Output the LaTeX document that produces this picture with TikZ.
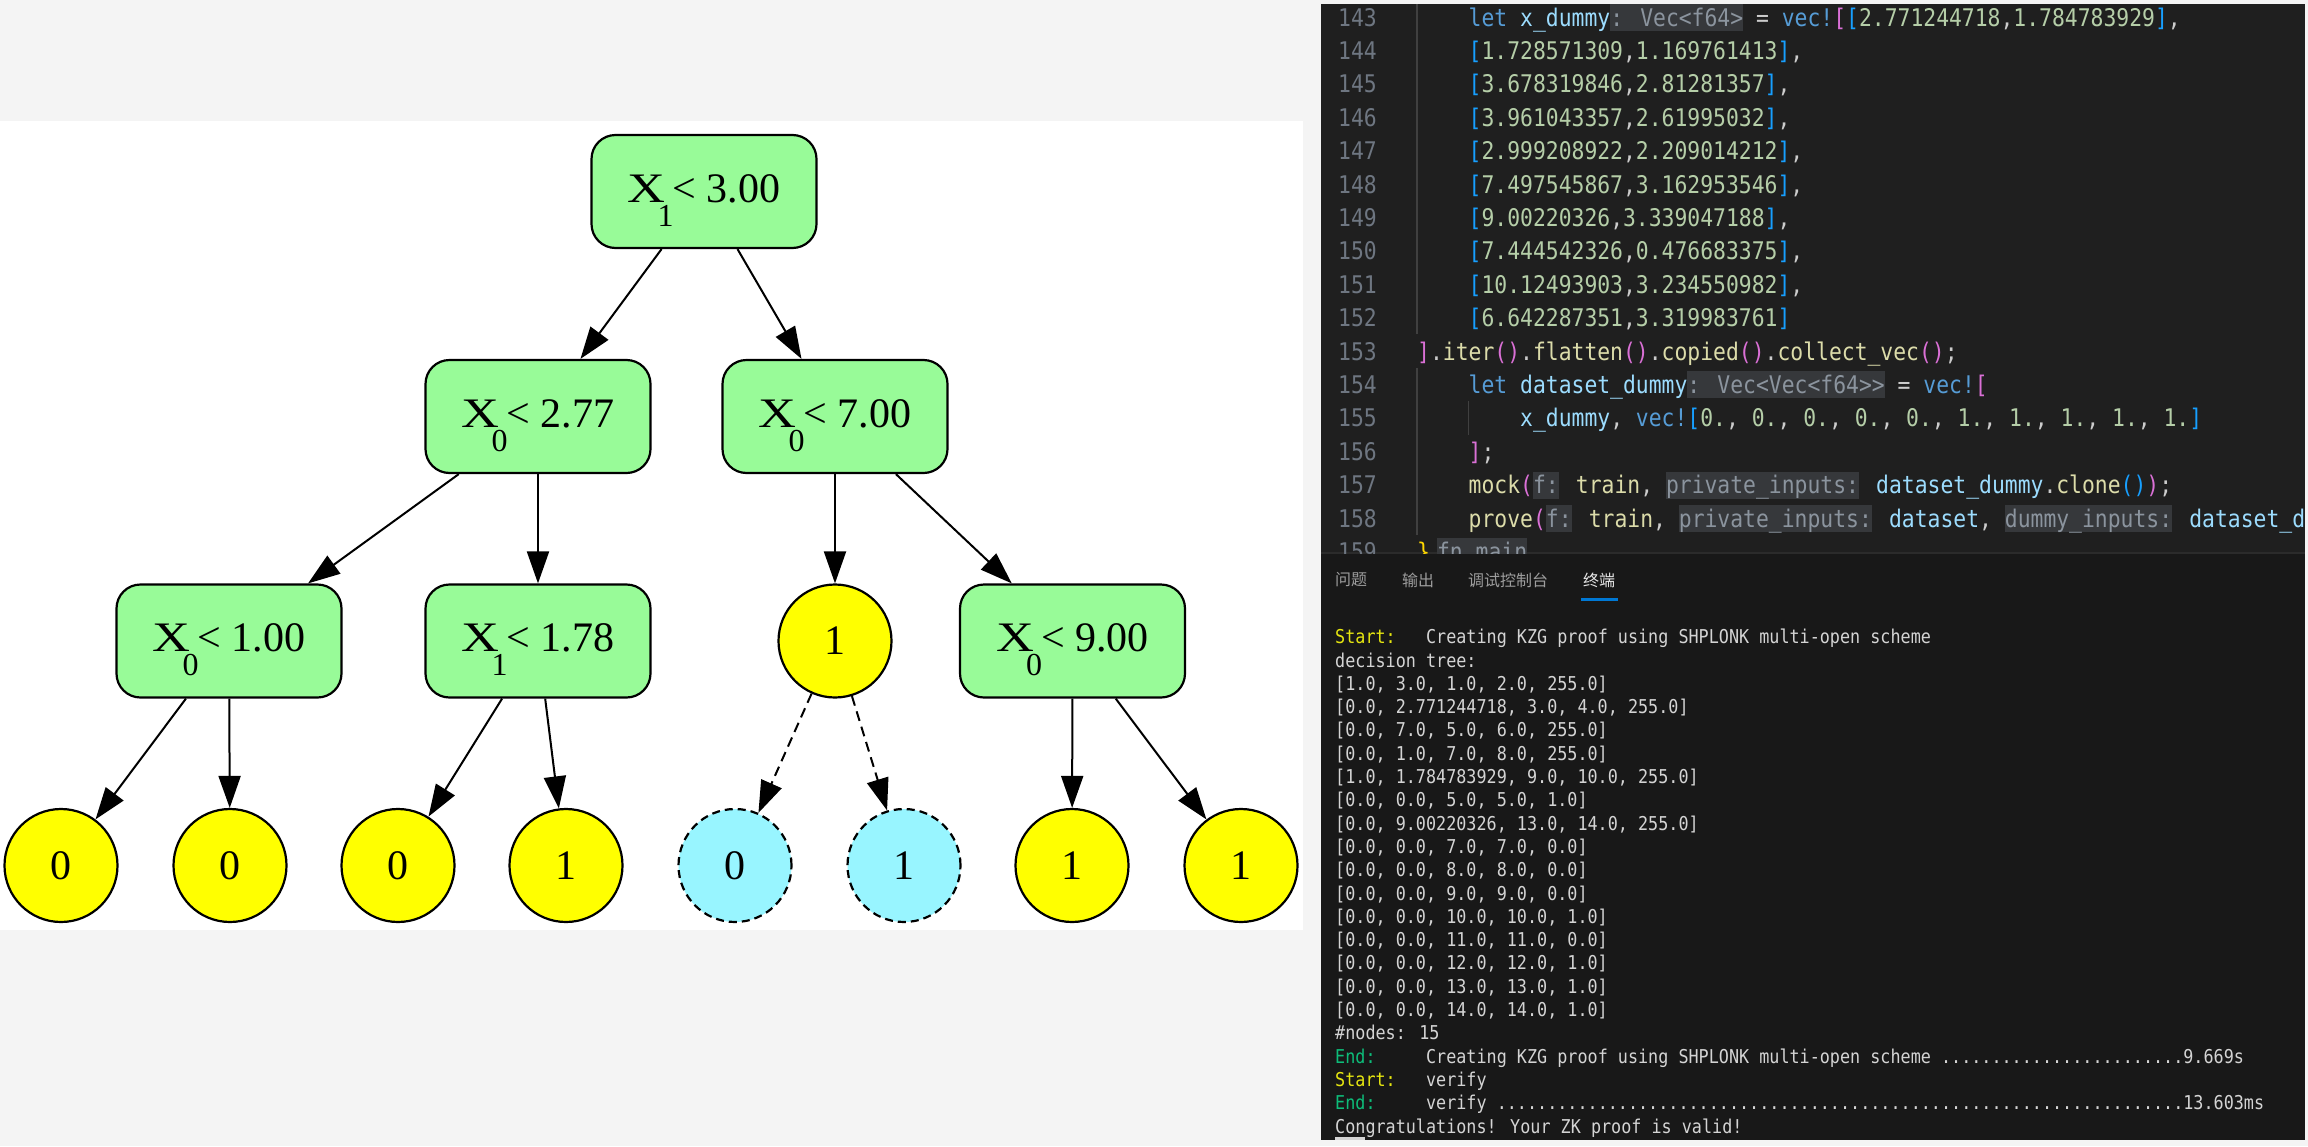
\documentclass[tikz,border=0pt]{standalone}
\usepackage{fontspec}
\usepackage{graphicx}
\usetikzlibrary{arrows.meta}
\setmainfont{Liberation Serif}
\newfontfamily\codefont[FakeStretch=0.88]{DejaVu Sans Mono}
\newfontfamily\cjkfont{Noto Sans CJK SC}
\definecolor{colpage}{HTML}{F4F4F4}
\definecolor{colcodebg}{HTML}{1F1F1F}
\definecolor{coltermbg}{HTML}{181818}
\definecolor{colsep}{HTML}{2B2B2B}
\definecolor{colguide}{HTML}{404040}
\definecolor{colkw}{HTML}{569CD6}
\definecolor{colvar}{HTML}{9CDCFE}
\definecolor{colnum}{HTML}{B5CEA8}
\definecolor{colfun}{HTML}{DCDCAA}
\definecolor{colbra}{HTML}{FFD700}
\definecolor{colbrb}{HTML}{DA70D6}
\definecolor{colbrc}{HTML}{179FFF}
\definecolor{coltxt}{HTML}{CCCCCC}
\definecolor{colterm}{HTML}{D4D4D4}
\definecolor{collnum}{HTML}{6E7681}
\definecolor{colhintbg}{HTML}{36383B}
\definecolor{colhintfg}{HTML}{8B949E}
\definecolor{colansiy}{HTML}{E5E510}
\definecolor{colansig}{HTML}{0DBC79}
\definecolor{coltabin}{HTML}{9D9D9D}
\definecolor{coltabact}{HTML}{E7E7E7}
\definecolor{coltabline}{HTML}{0078D4}
\definecolor{colgreen}{HTML}{98FB98}
\definecolor{colyellow}{HTML}{FFFF00}
\definecolor{colcyan}{HTML}{98F5FF}
\newcommand\treefont{\fontsize{42}{42}\selectfont}
\newcommand\tlab[3]{\scalebox{1.25}[1]{#1}\kern-8pt\smash{\raisebox{-24pt}{\fontsize{32}{32}\selectfont #2}}\kern-1pt< #3}
\newcommand\cK[1]{\textcolor{colkw}{#1}}
\newcommand\cV[1]{\textcolor{colvar}{#1}}
\newcommand\cN[1]{\textcolor{colnum}{#1}}
\newcommand\cF[1]{\textcolor{colfun}{#1}}
\newcommand\cBa[1]{\textcolor{colbra}{#1}}
\newcommand\cBb[1]{\textcolor{colbrb}{#1}}
\newcommand\cBc[1]{\textcolor{colbrc}{#1}}
\newsavebox\hintbox
\newcommand\cHint[1]{\sbox\hintbox{#1}\makebox[0pt][l]{\textcolor{colhintbg}{\rule[-5pt]{\wd\hintbox}{27pt}}}\textcolor{colhintfg}{#1}}
\newcommand\ay[1]{\textcolor{colansiy}{#1}}
\newcommand\ag[1]{\textcolor{colansig}{#1}}
\newcommand\mycodeline[3]{%
  \node[lnumtext] (n#1) at (1377,{26+33.4*(#1-143)}) {#1};
  \node[codetext] (c#1) at ({1417+12.87*#2},{26+33.4*(#1-143)}) {#3};}
\newcommand\mytermline[2]{%
  \node[termtext] (t#1) at (1335,{643.7+23.3*#1}) {#2};}
\begin{document}
\begin{tikzpicture}[x=1pt,y=-1pt,
  tbox/.style={draw, line width=2.2pt, fill=colgreen, rounded corners=24pt,
    minimum width=225pt, minimum height=113pt, inner sep=0pt, font=\treefont,
    text height=21pt, text depth=0pt},
  leaf/.style={circle, draw, line width=2.2pt, fill=colyellow, minimum size=113pt,
    inner sep=0pt, font=\treefont},
  dleaf/.style={leaf, fill=colcyan, dash pattern=on 8pt off 5pt},
  tedge/.style={line width=2pt, -{Triangle[length=32pt,width=22pt]}},
  dedge/.style={tedge, dash pattern=on 10pt off 6pt},
  lnumtext/.style={anchor=base east, inner sep=0pt, text=collnum,
    font=\codefont\fontsize{24.29}{24.29}\selectfont},
  codetext/.style={anchor=base west, inner sep=0pt, text=coltxt,
    font=\codefont\fontsize{24.29}{24.29}\selectfont},
  termtext/.style={anchor=base west, inner sep=0pt, text=colterm,
    font=\codefont\fontsize{19.06}{19.06}\selectfont},
  tabtext/.style={anchor=west, inner sep=0pt, font=\cjkfont\fontsize{16}{16}\selectfont}
]
\useasboundingbox (0,0) rectangle (2308,1146);
\fill[colpage] (0,0) rectangle (2308,1146);
% ---------------- tree panel
\fill[white] (0,121) rectangle (1303,930);
\node[tbox] (root) at (704,191.5) {\tlab{X}{1}{3.00}};
\node[tbox] (a) at (538,416.5) {\tlab{X}{0}{2.77}};
\node[tbox] (b) at (835,416.5) {\tlab{X}{0}{7.00}};
\node[tbox] (aa) at (229,641) {\tlab{X}{0}{1.00}};
\node[tbox] (ab) at (538,641) {\tlab{X}{1}{1.78}};
\node[leaf] (ba) at (835,641) {1};
\node[tbox] (bb) at (1072.5,641) {\tlab{X}{0}{9.00}};
\node[leaf] (l1) at (61,865.5) {0};
\node[leaf] (l2) at (230,865.5) {0};
\node[leaf] (l3) at (398,865.5) {0};
\node[leaf] (l4) at (566,865.5) {1};
\node[dleaf] (l5) at (735,865.5) {0};
\node[dleaf] (l6) at (904,865.5) {1};
\node[leaf] (l7) at (1072,865.5) {1};
\node[leaf] (l8) at (1241,865.5) {1};
\draw[tedge] (root) -- (a);
\draw[tedge] (root) -- (b);
\draw[tedge] (a) -- (aa);
\draw[tedge] (a) -- (ab);
\draw[tedge] (b) -- (ba);
\draw[tedge] (b) -- (bb);
\draw[tedge] (aa) -- (l1);
\draw[tedge] (aa) -- (l2);
\draw[tedge] (ab) -- (l3);
\draw[tedge] (ab) -- (l4);
\draw[dedge] (ba) -- (l5);
\draw[dedge] (ba) -- (l6);
\draw[tedge] (bb) -- (l7);
\draw[tedge] (bb) -- (l8);
% ---------------- editor panel
\fill[colcodebg] (1321,4) rectangle (2305,553);
\fill[coltermbg] (1321,553) rectangle (2305,1140);
\draw[colsep, line width=1.5pt] (1321,553) -- (2305,553);
\begin{scope}
\clip (1321,4) rectangle (2305,553);
\draw[colguide, line width=1.3pt] (1417,4) -- (1417,334);
\draw[colguide, line width=1.3pt] (1417,368) -- (1417,535);
\draw[colguide, line width=1.3pt] (1468.5,401) -- (1468.5,435);
\mycodeline{143}{4}{\cK{let} \cV{x\_dummy}\cHint{: Vec<f64>} = \cK{vec!}\cBb{[}\cBc{[}\cN{2.771244718},\cN{1.784783929}\cBc{]},}
\mycodeline{144}{4}{\cBc{[}\cN{1.728571309},\cN{1.169761413}\cBc{]},}
\mycodeline{145}{4}{\cBc{[}\cN{3.678319846},\cN{2.81281357}\cBc{]},}
\mycodeline{146}{4}{\cBc{[}\cN{3.961043357},\cN{2.61995032}\cBc{]},}
\mycodeline{147}{4}{\cBc{[}\cN{2.999208922},\cN{2.209014212}\cBc{]},}
\mycodeline{148}{4}{\cBc{[}\cN{7.497545867},\cN{3.162953546}\cBc{]},}
\mycodeline{149}{4}{\cBc{[}\cN{9.00220326},\cN{3.339047188}\cBc{]},}
\mycodeline{150}{4}{\cBc{[}\cN{7.444542326},\cN{0.476683375}\cBc{]},}
\mycodeline{151}{4}{\cBc{[}\cN{10.12493903},\cN{3.234550982}\cBc{]},}
\mycodeline{152}{4}{\cBc{[}\cN{6.642287351},\cN{3.319983761}\cBc{]}}
\mycodeline{153}{0}{\cBb{]}.\cF{iter}\cBb{()}.\cF{flatten}\cBb{()}.\cF{copied}\cBb{()}.\cF{collect\_vec}\cBb{()};}
\mycodeline{154}{4}{\cK{let} \cV{dataset\_dummy}\cHint{: Vec<Vec<f64>>} = \cK{vec!}\cBb{[}}
\mycodeline{155}{8}{\cV{x\_dummy}, \cK{vec!}\cBc{[}\cN{0.}, \cN{0.}, \cN{0.}, \cN{0.}, \cN{0.}, \cN{1.}, \cN{1.}, \cN{1.}, \cN{1.}, \cN{1.}\cBc{]}}
\mycodeline{156}{4}{\cBb{]};}
\mycodeline{157}{4}{\cF{mock}\cBb{(}\cHint{f:} \cF{train}, \cHint{private\_inputs:} \cV{dataset\_dummy}.\cF{clone}\cBc{()}\cBb{)};}
\mycodeline{158}{4}{\cF{prove}\cBb{(}\cHint{f:} \cF{train}, \cHint{private\_inputs:} \cV{dataset}, \cHint{dummy\_inputs:} \cV{dataset\_dummy}\cBb{)};}
\mycodeline{159}{0}{\cBa{\}}\hspace{7pt}\cHint{fn main}}
\end{scope}
% tabs
\node[tabtext, text=coltabin] (tab1) at (1335,580) {问题};
\node[tabtext, text=coltabin] (tab2) at (1402,580) {输出};
\node[tabtext, text=coltabin] (tab3) at (1468,580) {调试控制台};
\node[tabtext, text=coltabact] (tab4) at (1583,580) {终端};
\fill[coltabline] (1581,598) rectangle (1618,600.5);
% terminal
\mytermline{0}{\ay{Start:}~~~Creating KZG proof using SHPLONK multi-open scheme}
\mytermline{1}{decision tree:}
\mytermline{2}{[1.0, 3.0, 1.0, 2.0, 255.0]}
\mytermline{3}{[0.0, 2.771244718, 3.0, 4.0, 255.0]}
\mytermline{4}{[0.0, 7.0, 5.0, 6.0, 255.0]}
\mytermline{5}{[0.0, 1.0, 7.0, 8.0, 255.0]}
\mytermline{6}{[1.0, 1.784783929, 9.0, 10.0, 255.0]}
\mytermline{7}{[0.0, 0.0, 5.0, 5.0, 1.0]}
\mytermline{8}{[0.0, 9.00220326, 13.0, 14.0, 255.0]}
\mytermline{9}{[0.0, 0.0, 7.0, 7.0, 0.0]}
\mytermline{10}{[0.0, 0.0, 8.0, 8.0, 0.0]}
\mytermline{11}{[0.0, 0.0, 9.0, 9.0, 0.0]}
\mytermline{12}{[0.0, 0.0, 10.0, 10.0, 1.0]}
\mytermline{13}{[0.0, 0.0, 11.0, 11.0, 0.0]}
\mytermline{14}{[0.0, 0.0, 12.0, 12.0, 1.0]}
\mytermline{15}{[0.0, 0.0, 13.0, 13.0, 1.0]}
\mytermline{16}{[0.0, 0.0, 14.0, 14.0, 1.0]}
\mytermline{17}{\#nodes: 15}
\mytermline{18}{\ag{End:}~~~~~Creating KZG proof using SHPLONK multi-open scheme ........................9.669s}
\mytermline{19}{\ay{Start:}~~~verify}
\mytermline{20}{\ag{End:}~~~~~verify ....................................................................13.603ms}
\mytermline{21}{Congratulations! Your ZK proof is valid!}
\fill[colterm] (1335,1136.5) rectangle (1365,1140);
\end{tikzpicture}
\end{document}
